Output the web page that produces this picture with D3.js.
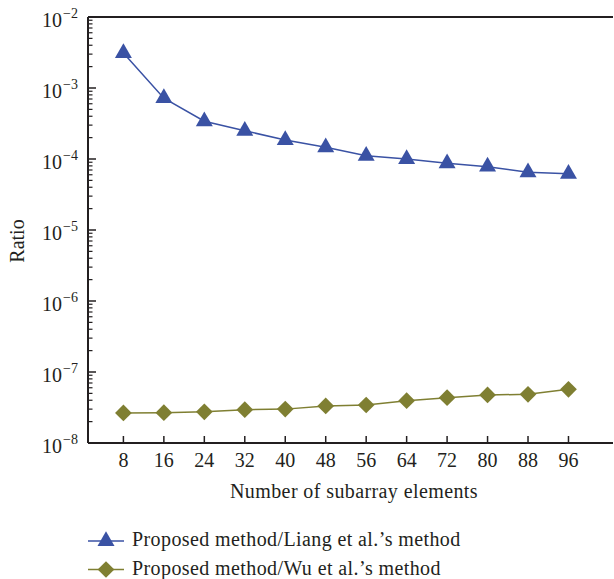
<!DOCTYPE html>
<html>
<head>
<meta charset="utf-8">
<script src="https://cdn.jsdelivr.net/npm/d3@7"></script>
<style>
  body { margin: 0; background: #fff; }
  text { font-family: "Liberation Serif", "DejaVu Serif", serif; fill: #231f20; }
</style>
</head>
<body>
<svg width="614" height="579"></svg>
<script>
const width = 614;
const height = 579;
const margin = { left: 88, right: 0, top: 17, bottom: 136 };

const elements = [8, 16, 24, 32, 40, 48, 56, 64, 72, 80, 88, 96];
const liang = [3.1e-3, 7.2e-4, 3.4e-4, 2.5e-4, 1.85e-4, 1.46e-4, 1.11e-4, 1.0e-4, 8.7e-5, 7.8e-5, 6.5e-5, 6.2e-5];
const wu = [2.65e-8, 2.67e-8, 2.75e-8, 2.95e-8, 3.0e-8, 3.33e-8, 3.43e-8, 3.95e-8, 4.35e-8, 4.75e-8, 4.85e-8, 5.7e-8];
const yTicks = [-2, -3, -4, -5, -6, -7, -8];
const seriesNames = ["Proposed method/Liang et al.’s method", "Proposed method/Wu et al.’s method"];

const blue = "#3a52a4";
const olive = "#7f7f32";
const axisColor = "#231f20";
const fontSize = 20;

const svg = d3.select("svg");

const x = d3.scaleLinear().domain([1, 105]).range([margin.left, width - margin.right]);
const y = d3.scaleLog().domain([1e-8, 1e-2]).range([height - margin.bottom, margin.top]);
const yBottom = height - margin.bottom;

// top frame line
svg.append("line")
  .attr("x1", margin.left).attr("x2", width - 1)
  .attr("y1", margin.top).attr("y2", margin.top)
  .attr("stroke", axisColor).attr("stroke-width", 2);

// y axis with minor ticks
const minor = [];
for (let e = -8; e < -2; e++) {
  for (let m = 2; m <= 9; m++) minor.push(m * Math.pow(10, e));
}
svg.append("g").selectAll("line").data(minor).join("line")
  .attr("x1", margin.left).attr("x2", margin.left + 4.5)
  .attr("y1", (d) => y(d)).attr("y2", (d) => y(d))
  .attr("stroke", axisColor).attr("stroke-width", 1.2);

svg.append("g").selectAll("line").data(yTicks).join("line")
  .attr("x1", margin.left).attr("x2", margin.left + 8)
  .attr("y1", (d) => y(Math.pow(10, d))).attr("y2", (d) => y(Math.pow(10, d)))
  .attr("stroke", axisColor).attr("stroke-width", 1.5);

svg.append("line")
  .attr("x1", margin.left).attr("x2", margin.left)
  .attr("y1", margin.top).attr("y2", yBottom)
  .attr("stroke", axisColor).attr("stroke-width", 2);

const yLabels = svg.append("g").selectAll("text").data(yTicks).join("text")
  .attr("x", 42)
  .attr("y", (d) => y(Math.pow(10, d)) + 10)
  .attr("font-size", fontSize);
yLabels.append("tspan").text("10");
yLabels.append("tspan").attr("dx", 1).attr("dy", -9).attr("font-size", 14).text((d) => "−" + Math.abs(d));

// x axis
svg.append("line")
  .attr("x1", margin.left).attr("x2", width - 1)
  .attr("y1", yBottom).attr("y2", yBottom)
  .attr("stroke", axisColor).attr("stroke-width", 2);

svg.append("g").selectAll("line").data(elements).join("line")
  .attr("x1", (d) => x(d)).attr("x2", (d) => x(d))
  .attr("y1", yBottom).attr("y2", yBottom - 7)
  .attr("stroke", axisColor).attr("stroke-width", 1.5);

svg.append("g").selectAll("text").data(elements).join("text")
  .attr("x", (d) => x(d))
  .attr("y", yBottom + 24)
  .attr("text-anchor", "middle")
  .attr("font-size", fontSize)
  .text((d) => d);

svg.append("text")
  .attr("x", 354)
  .attr("y", 498)
  .attr("text-anchor", "middle")
  .attr("font-size", fontSize)
  .attr("letter-spacing", 0.4)
  .text("Number of subarray elements");

svg.append("text")
  .attr("transform", "translate(24,241) rotate(-90)")
  .attr("text-anchor", "middle")
  .attr("font-size", fontSize)
  .text("Ratio");

// series
const line = d3.line().x((d, i) => x(elements[i])).y((d) => y(d));
const triangle = d3.symbol().type(d3.symbolTriangle).size(125);
const diamond = d3.symbol().type(d3.symbolSquare).size(140);

svg.append("path").datum(liang)
  .attr("d", line).attr("fill", "none").attr("stroke", blue).attr("stroke-width", 1.5);
svg.append("g").selectAll("path").data(liang).join("path")
  .attr("d", triangle)
  .attr("transform", (d, i) => `translate(${x(elements[i])},${y(d)})`)
  .attr("fill", blue);

svg.append("path").datum(wu)
  .attr("d", line).attr("fill", "none").attr("stroke", olive).attr("stroke-width", 1.5);
svg.append("g").selectAll("path").data(wu).join("path")
  .attr("d", diamond)
  .attr("transform", (d, i) => `translate(${x(elements[i])},${y(d)}) rotate(45)`)
  .attr("fill", olive);

// legend
const legendY = [541, 569.5];
const legend = svg.append("g").selectAll("g").data(seriesNames).join("g")
  .attr("transform", (d, i) => `translate(0,${legendY[i]})`);
legend.append("line")
  .attr("x1", 88).attr("x2", 124).attr("y1", 0).attr("y2", 0)
  .attr("stroke", (d, i) => (i === 0 ? blue : olive)).attr("stroke-width", 1.5);
legend.append("path")
  .attr("d", (d, i) => (i === 0 ? triangle() : diamond()))
  .attr("transform", (d, i) => (i === 0 ? "translate(106,0)" : "translate(106,0) rotate(45)"))
  .attr("fill", (d, i) => (i === 0 ? blue : olive));
legend.append("text")
  .attr("x", 132).attr("y", 5)
  .attr("font-size", fontSize)
  .attr("letter-spacing", 0.4)
  .text((d) => d);
</script>
</body>
</html>
